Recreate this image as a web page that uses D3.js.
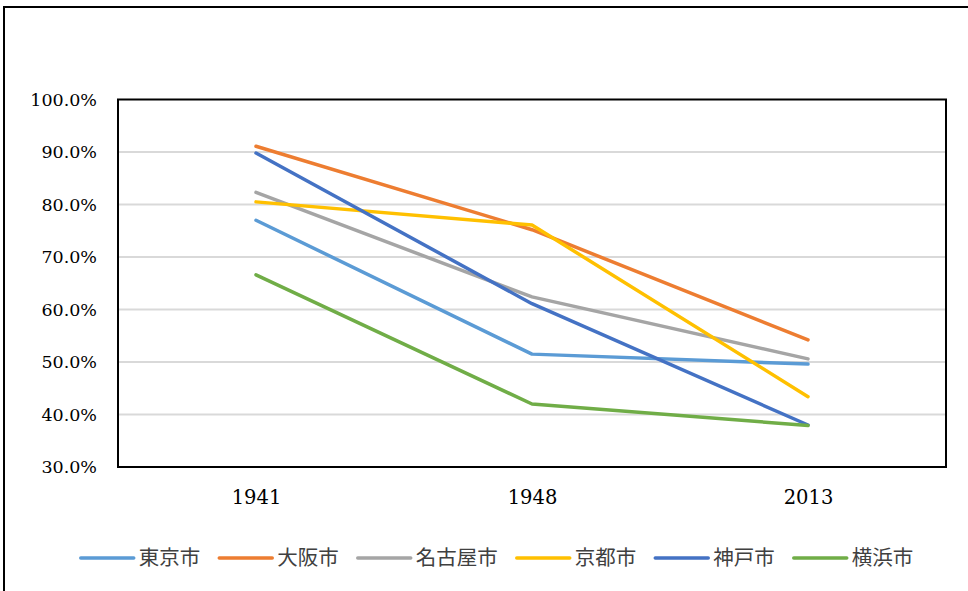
<!DOCTYPE html>
<html>
<head>
<meta charset="utf-8">
<script src="https://cdn.jsdelivr.net/npm/d3@7"></script>
<style>
  html, body { margin: 0; padding: 0; background: #fff; }
  svg { display: block; }
</style>
</head>
<body>
<svg id="chart" width="968" height="591"></svg>
<script>
// Share of population by city, selected years
const years = ["1941", "1948", "2013"];
const cities = ["東京市", "大阪市", "名古屋市", "京都市", "神戸市", "横浜市"];
const tokyo    = [77.0, 51.5, 49.6];
const osaka    = [91.1, 75.2, 54.2];
const nagoya   = [82.3, 62.4, 50.6];
const kyoto    = [80.5, 76.1, 43.4];
const kobe     = [89.8, 61.1, 38.0];
const yokohama = [66.6, 42.0, 37.9];
const colors = ["#5B9BD5", "#ED7D31", "#A5A5A5", "#FFC000", "#4472C4", "#70AD47"];
const yTicks = [30, 40, 50, 60, 70, 80, 90, 100];

const seriesValues = [tokyo, osaka, nagoya, kyoto, kobe, yokohama];
const series = cities.map((name, i) => ({
  name,
  color: colors[i],
  points: years.map((yr, j) => ({ year: yr, value: seriesValues[i][j] }))
}));

const svg = d3.select("#chart");
const plot = { left: 118, right: 946, top: 99.5, bottom: 467 };

// Outer chart border (continues past the right and bottom edges)
svg.append("rect")
  .attr("x", 4).attr("y", 7)
  .attr("width", 1000).attr("height", 700)
  .attr("fill", "#fff").attr("stroke", "#000").attr("stroke-width", 2);

const x = d3.scalePoint().domain(years).range([plot.left, plot.right]).padding(0.5);
const y = d3.scaleLinear().domain([30, 100]).range([plot.bottom, plot.top]);

// Horizontal gridlines
svg.append("g")
  .selectAll("line")
  .data(yTicks.filter(t => t > 30 && t < 100))
  .join("line")
  .attr("x1", plot.left).attr("x2", plot.right)
  .attr("y1", d => y(d)).attr("y2", d => y(d))
  .attr("stroke", "#d9d9d9").attr("stroke-width", 2);

// Y axis labels
const yAxis = d3.axisLeft(y).tickValues(yTicks).tickSize(0).tickPadding(21)
  .tickFormat(d => d.toFixed(1) + "%");
const gy = svg.append("g").attr("transform", `translate(${plot.left},0)`).call(yAxis);
gy.select(".domain").remove();
gy.selectAll("text")
  .attr("font-family", "'DejaVu Serif', serif")
  .attr("font-size", 17.5)
  .attr("fill", "#000");

// X axis labels
const xAxis = d3.axisBottom(x).tickSize(0).tickPadding(23);
const gx = svg.append("g").attr("transform", `translate(0,${plot.bottom})`).call(xAxis);
gx.select(".domain").remove();
gx.selectAll("text")
  .attr("font-family", "'DejaVu Serif', serif")
  .attr("font-size", 19.5)
  .attr("fill", "#000");

// Series lines
const line = d3.line().x(d => x(d.year)).y(d => y(d.value));
svg.append("g")
  .selectAll("path")
  .data(series)
  .join("path")
  .attr("d", d => line(d.points))
  .attr("fill", "none")
  .attr("stroke", d => d.color)
  .attr("stroke-width", 3.5)
  .attr("stroke-linecap", "round")
  .attr("stroke-linejoin", "round");

// Plot area frame
svg.append("rect")
  .attr("x", plot.left).attr("y", plot.top)
  .attr("width", plot.right - plot.left).attr("height", plot.bottom - plot.top)
  .attr("fill", "none").attr("stroke", "#000").attr("stroke-width", 2);

// Legend
const legend = svg.append("g");
const legendY = 558;
const swatch = 53, gapText = 5, gapItem = 19;
const items = legend.selectAll("g").data(series).join("g");
items.append("line")
  .attr("x1", 0).attr("x2", swatch)
  .attr("y1", 0).attr("y2", 0)
  .attr("stroke", d => d.color).attr("stroke-width", 3.5)
  .attr("stroke-linecap", "round");
items.append("text")
  .attr("x", swatch + gapText)
  .attr("y", 0)
  .attr("dy", "0.36em")
  .attr("font-family", "'Noto Sans CJK JP', sans-serif")
  .attr("font-size", 20.5)
  .attr("fill", "#404040")
  .text(d => d.name);
let offset = 0;
const widths = [];
items.each(function () {
  const w = swatch + gapText + this.querySelector("text").getComputedTextLength();
  widths.push(w);
});
const total = d3.sum(widths) + gapItem * (widths.length - 1);
offset = 497 - total / 2;
items.attr("transform", (d, i) => {
  const tx = offset;
  offset += widths[i] + gapItem;
  return `translate(${tx},${legendY})`;
});
</script>
</body>
</html>
